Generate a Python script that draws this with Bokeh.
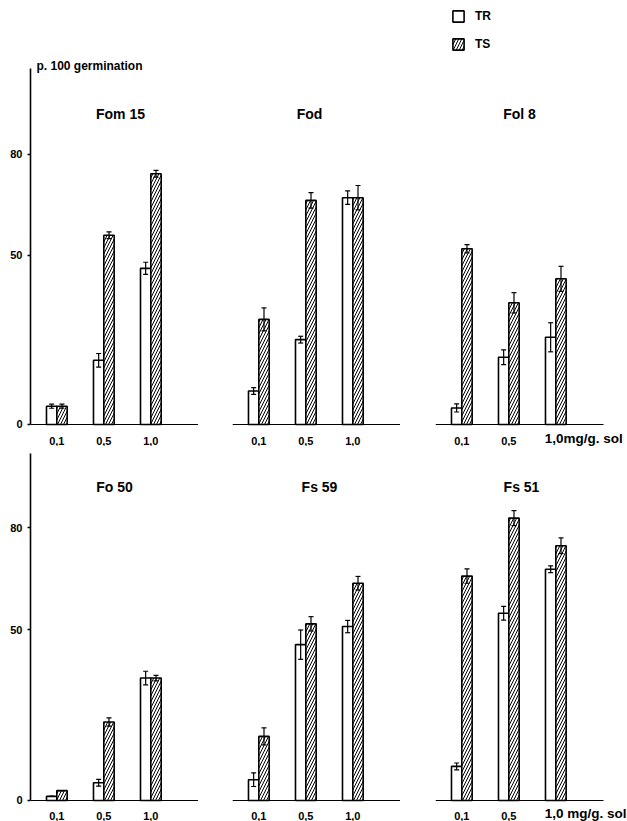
from bokeh.plotting import figure
from bokeh.models import (ColumnDataSource, Whisker, TeeHead, Label, Legend,
                          LegendItem, FixedTicker)
from bokeh.layouts import column, row
from bokeh.transform import dodge
from bokeh.embed import file_html
from bokeh.resources import INLINE

# ---------------- data ----------------
conc_labels = ["0,1", "0,5", "1,0"]
unit_label = "mg/g. sol"
y_ticks = [0, 50, 80]
y_label = "p. 100 germination"
series_names = ["TR", "TS"]
strains = ["Fom 15", "Fod", "Fol 8", "Fo 50", "Fs 59", "Fs 51"]

tr_values = [
    [5.4, 19.0, 46.2],   # Fom 15
    [9.9, 25.1, 67.1],   # Fod
    [4.9, 19.9, 25.8],   # Fol 8
    [1.2, 5.2, 35.9],    # Fo 50
    [6.1, 45.7, 51.0],   # Fs 59
    [10.0, 54.9, 67.8],  # Fs 51
]
tr_errors = [
    [0.6, 2.0, 1.8],
    [1.0, 1.0, 2.0],
    [1.2, 2.2, 4.3],
    [0.0, 1.0, 2.0],
    [2.0, 4.3, 1.8],
    [1.0, 2.0, 1.0],
]
ts_values = [
    [5.4, 56.0, 74.2],
    [31.1, 66.3, 67.1],
    [52.0, 36.0, 43.1],
    [2.9, 23.0, 35.9],
    [18.8, 51.8, 63.7],
    [65.8, 82.8, 74.7],
]
ts_errors = [
    [0.6, 1.0, 1.0],
    [3.4, 2.3, 3.6],
    [1.2, 3.0, 3.7],
    [0.0, 1.2, 0.8],
    [2.5, 2.1, 2.0],
    [2.1, 2.2, 2.3],
]

# ---------------- style ----------------
FONT = "Liberation Sans"
X_START, X_END = 0.44, 4.014      # extent of each panel's baseline
X_END_WIDE = 4.525                # right-hand panels leave room for the unit
BAR_W = 0.22
TITLE_DX = [6, -7, 0, 0, 3, 2]

ROWS = [
    # height, y_start, y_end, axis top, label standoff, unit label y
    dict(height=446, y0=-6.51, y1=125.44, ytop=105.3, standoff=7, unit_y=-4.1),
    dict(height=375, y0=-6.16, y1=103.8, ytop=101.8, standoff=6, unit_y=-3.8),
]
COLS = [
    dict(width=198, left=30, x1=X_END),
    dict(width=202, left=34, x1=X_END),
    dict(width=227, left=35, x1=X_END_WIDE),
]


def make_panel(i):
    r = ROWS[i // 3]
    c = COLS[i % 3]
    show_y = (i % 3 == 0)
    with_unit = (i % 3 == 2)

    p = figure(width=c["width"], height=r["height"],
               x_range=(X_START, c["x1"]), y_range=(r["y0"], r["y1"]),
               output_backend="svg", toolbar_location=None, tools="")
    p.title.visible = False
    p.min_border_left = c["left"]
    p.min_border_right = 0
    p.min_border_top = 0
    p.min_border_bottom = 0
    p.outline_line_color = None
    p.xgrid.visible = False
    p.ygrid.visible = False
    p.background_fill_color = "white"
    p.border_fill_color = "white"

    positions = [k + 1 for k in range(len(conc_labels))]
    tr = tr_values[i]
    ts = ts_values[i]
    src = ColumnDataSource(dict(
        pos=positions, tr=tr, ts=ts,
        tr_up=[v + e for v, e in zip(tr, tr_errors[i])],
        tr_lo=[v - e for v, e in zip(tr, tr_errors[i])],
        ts_up=[v + e for v, e in zip(ts, ts_errors[i])],
        ts_lo=[v - e for v, e in zip(ts, ts_errors[i])],
    ))

    r_tr = p.vbar(x=dodge("pos", -BAR_W / 2), top="tr", width=BAR_W,
                  source=src, fill_color="white", line_color="black",
                  line_width=1.6)
    r_ts = p.vbar(x=dodge("pos", BAR_W / 2), top="ts", width=BAR_W,
                  source=src, fill_color="white", line_color="black",
                  line_width=1.6, hatch_pattern="/", hatch_color="black",
                  hatch_scale=6, hatch_weight=1)

    for off, up, lo in ((-BAR_W / 2, "tr_up", "tr_lo"),
                        (BAR_W / 2, "ts_up", "ts_lo")):
        w = Whisker(source=src, base=dodge("pos", off), upper=up, lower=lo,
                    line_color="black", line_width=1.2,
                    upper_head=TeeHead(size=5, line_width=1.2),
                    lower_head=TeeHead(size=5, line_width=1.2),
                    level="annotation")
        p.add_layout(w)

    # x axis: baseline at zero
    xa = p.xaxis[0]
    xa.fixed_location = 0
    xa.bounds = (X_START, X_END)
    xa.ticker = FixedTicker(ticks=positions)
    overrides = {pos: lab for pos, lab in zip(positions, conc_labels)}
    if with_unit:
        overrides[positions[-1]] = ""
    xa.major_label_overrides = overrides
    xa.major_tick_line_color = None
    xa.minor_tick_line_color = None
    xa.axis_line_color = "black"
    xa.axis_line_width = 1.2
    xa.major_label_standoff = r["standoff"]
    xa.major_label_text_font = FONT
    xa.major_label_text_font_style = "bold"
    xa.major_label_text_font_size = "11px"
    xa.major_label_text_color = "black"

    # y axis
    ya = p.yaxis[0]
    if show_y:
        ya.bounds = (0, r["ytop"])
        ya.ticker = FixedTicker(ticks=y_ticks)
        ya.major_label_overrides = {t: str(t) for t in y_ticks}
        ya.minor_tick_line_color = None
        ya.major_tick_in = 0
        ya.major_tick_out = 3
        ya.major_tick_line_width = 1.5
        ya.axis_line_width = 1.6
        ya.axis_line_color = "black"
        ya.major_label_standoff = 5
        ya.major_label_text_font = FONT
        ya.major_label_text_font_style = "bold"
        ya.major_label_text_font_size = "11px"
        ya.major_label_text_color = "black"
    else:
        ya.visible = False

    # panel title
    p.add_layout(Label(x=(X_START + X_END) / 2, y=92, x_offset=TITLE_DX[i],
                       text=strains[i], text_align="center",
                       text_baseline="middle", text_font=FONT,
                       text_font_style="bold", text_font_size="14px",
                       text_color="black"))

    if with_unit:
        sep = "" if i < 3 else " "
        p.add_layout(Label(x=positions[-1], y=r["unit_y"], x_offset=-11,
                           text=conc_labels[-1] + sep + unit_label,
                           text_align="left", text_baseline="middle",
                           text_font=FONT, text_font_style="bold",
                           text_font_size="13.5px", text_color="black"))
    return p, r_tr, r_ts


panels = [make_panel(i) for i in range(6)]
p1 = panels[0][0]
p3, r_tr, r_ts = panels[2]

# y label
p1.add_layout(Label(x=X_START, y=106.2, x_offset=6, text=y_label,
                    text_align="left", text_baseline="middle",
                    text_font=FONT, text_font_style="bold",
                    text_font_size="12px", text_color="black"))

# legend
legend = Legend(items=[LegendItem(label=series_names[0], renderers=[r_tr]),
                       LegendItem(label=series_names[1], renderers=[r_ts])],
                location=(16, 395), orientation="vertical",
                glyph_width=14, glyph_height=14, label_height=14,
                label_width=14, spacing=14, padding=0, margin=0,
                label_standoff=10, border_line_color=None,
                background_fill_alpha=0, label_text_font=FONT,
                label_text_font_style="bold", label_text_font_size="12px",
                label_text_color="black")
p3.add_layout(legend)

layout = column(row(*[pp[0] for pp in panels[:3]]),
                row(*[pp[0] for pp in panels[3:]]))

open("out.html", "w").write(file_html(layout, INLINE))
